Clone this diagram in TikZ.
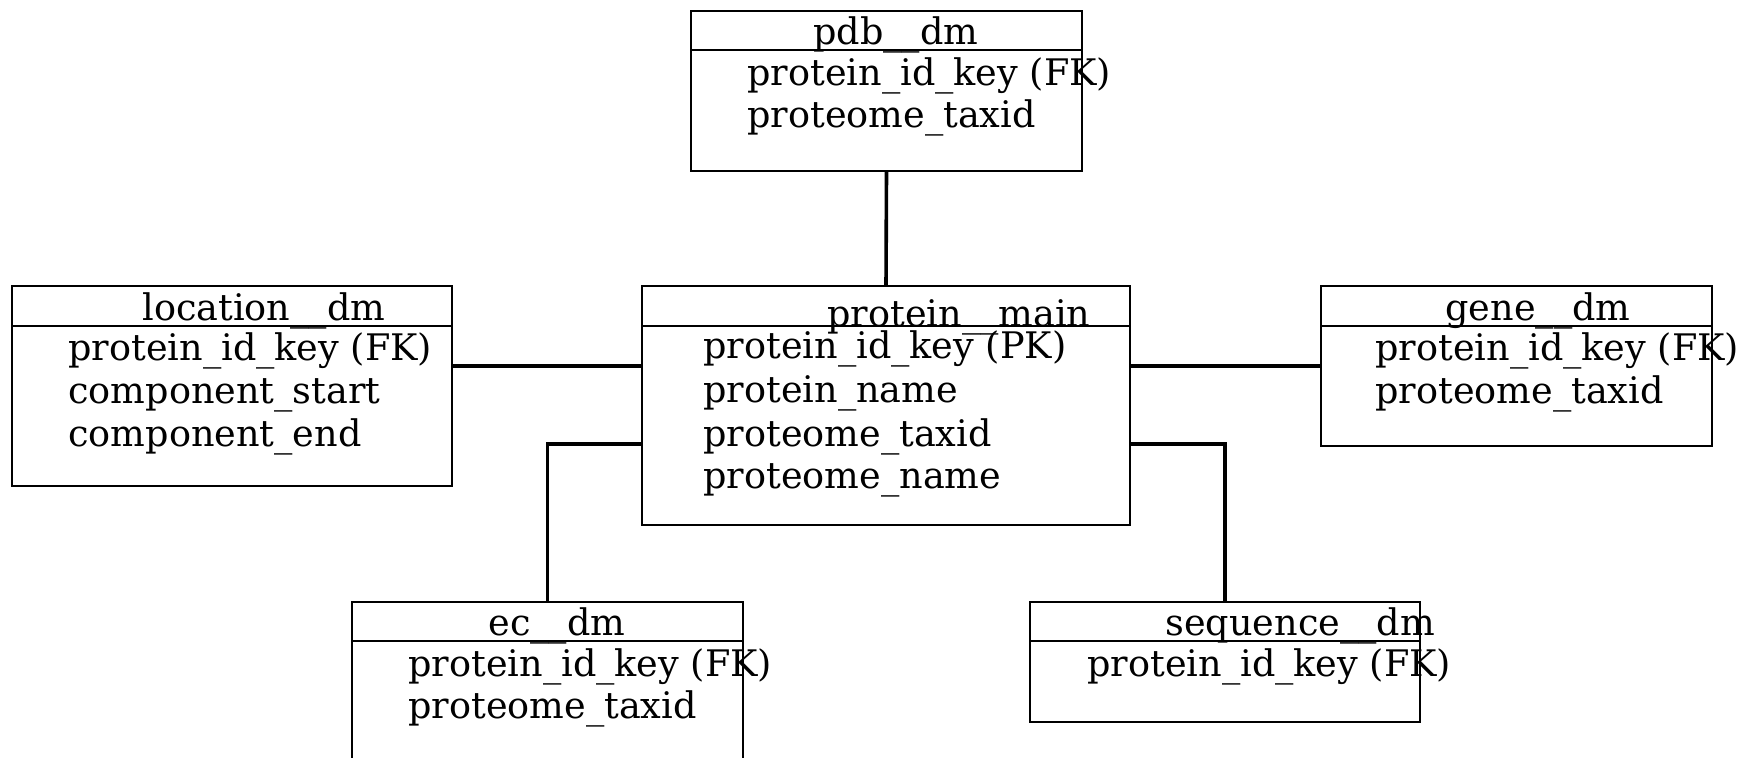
\documentclass[tikz,border=0pt]{standalone}
\usepackage{fontspec}
\setmainfont{DejaVu Serif}
\begin{document}
\begin{tikzpicture}[x=0.5pt,y=-0.5pt,
  tbl/.style={draw=black,line width=1pt,rectangle,inner sep=0pt,outer sep=0pt},
  sepline/.style={draw=black,line width=1.3pt},
  conn/.style={draw=black,line width=1.8pt},
  txt/.style={anchor=base west,inner sep=0pt,font=\fontsize{18.3}{22}\selectfont}]
\useasboundingbox (0,0) rectangle (1756,757);
\clip (0,0) rectangle (1756,757);
% tables
\node[tbl,minimum width=195.5pt,minimum height=80pt] (pdb) at (886.5,91) {};
\node[tbl,minimum width=220pt,minimum height=100pt] (loc) at (232,386) {};
\node[tbl,minimum width=244pt,minimum height=119.5pt] (main) at (886,405.5) {};
\node[tbl,minimum width=195.5pt,minimum height=80pt] (gene) at (1516.5,366) {};
\node[tbl,minimum width=195.5pt,minimum height=80pt] (ec) at (547.5,682) {};
\node[tbl,minimum width=195pt,minimum height=60pt] (seq) at (1225,662) {};
% separators
\draw[sepline] (pdb.west |- 0,50) -- (pdb.east |- 0,50);
\draw[sepline] (loc.west |- 0,326) -- (loc.east |- 0,326);
\draw[sepline] (main.west |- 0,326) -- (main.east |- 0,326);
\draw[sepline] (gene.west |- 0,326) -- (gene.east |- 0,326);
\draw[sepline] (ec.west |- 0,641) -- (ec.east |- 0,641);
\draw[sepline] (seq.west |- 0,641) -- (seq.east |- 0,641);
% titles
\node[txt] (tpdb) at (813,44) {pdb\_\_dm};
\node[txt] (tloc) at (142,320) {location\_\_dm};
\node[txt] (tmain) at (827,326) {protein\_\_main};
\node[txt] (tgene) at (1445,320) {gene\_\_dm};
\node[txt] (tec) at (488,635) {ec\_\_dm};
\node[txt] (tseq) at (1165,635) {sequence\_\_dm};
% rows
\node[txt] (p1) at (747,85) {protein\_id\_key (FK)};
\node[txt] (p2) at (747,127) {proteome\_taxid};
\node[txt] (l1) at (68,360) {protein\_id\_key (FK)};
\node[txt] (l2) at (68,403) {component\_start};
\node[txt] (l3) at (68,446) {component\_end};
\node[txt] (m1) at (703,358) {protein\_id\_key (PK)};
\node[txt] (m2) at (703,402) {protein\_name};
\node[txt] (m3) at (703,446) {proteome\_taxid};
\node[txt] (m4) at (703,488) {proteome\_name};
\node[txt] (g1) at (1375,360) {protein\_id\_key (FK)};
\node[txt] (g2) at (1375,403) {proteome\_taxid};
\node[txt] (e1) at (408,676) {protein\_id\_key (FK)};
\node[txt] (e2) at (408,718) {proteome\_taxid};
\node[txt] (s1) at (1087,676) {protein\_id\_key (FK)};
% connectors
\draw[conn] (pdb.south) -- (main.north);
\draw[conn] (loc.east |- 0,366) -- (main.west |- 0,366);
\draw[conn] (gene.west |- 0,366) -- (main.east |- 0,366);
\draw[conn] (main.west |- 0,444) -| (ec.north);
\draw[conn] (main.east |- 0,444) -| (seq.north);
\end{tikzpicture}
\end{document}
